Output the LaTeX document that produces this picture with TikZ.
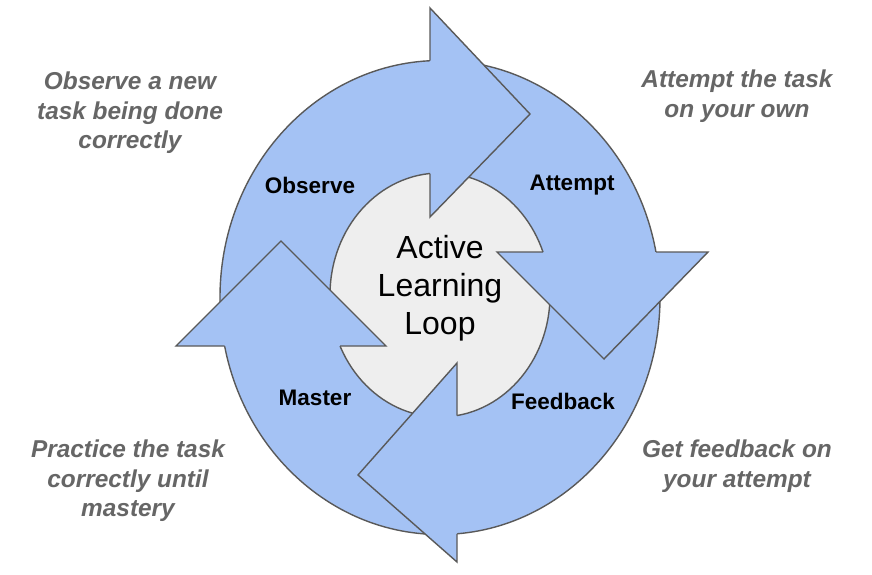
\documentclass[tikz,border=0pt]{standalone}
\usepackage{fontspec}
\setmainfont{Liberation Sans}
\definecolor{loopblue}{HTML}{A4C2F4}
\definecolor{loopgray}{HTML}{EEEEEE}
\definecolor{edgegray}{HTML}{595959}
\definecolor{notegray}{HTML}{666666}
\tikzset{
  ring/.style={fill=loopblue, draw=edgegray, line width=1.4pt},
  head/.style={draw=edgegray, line width=1.4pt, line join=miter},
  stage/.style={font=\fontsize{22.5}{26}\selectfont\bfseries},
  note/.style={align=center, text=notegray, font=\fontsize{24.4}{29.5}\selectfont\bfseries\itshape},
}
\begin{document}
\begin{tikzpicture}[x=1pt, y=-1pt]
\useasboundingbox (0,0) rectangle (872,575);
% ring and centre
\draw[ring] (440,297.5) ellipse [x radius=220, y radius=237];
\draw[ring, fill=loopgray] (440,295) ellipse [x radius=110, y radius=122];
% top head
\coordinate (T_o) at (430,60.7);
\coordinate (T_i) at (430,173.5);
\coordinate (T_w1) at (430,8);
\coordinate (T_tip) at (530,114);
\coordinate (T_w2) at (430,217);
\fill[loopblue] (T_w1) -- (T_tip) -- (T_w2) -- cycle;
\draw[head] (T_o) -- (T_w1) -- (T_tip) -- (T_w2) -- (T_i);
% right head
\coordinate (R_o) at (656,252);
\coordinate (R_i) at (543,252);
\coordinate (R_w1) at (708,252);
\coordinate (R_tip) at (604,359);
\coordinate (R_w2) at (497,252);
\fill[loopblue] (R_w1) -- (R_tip) -- (R_w2) -- cycle;
\draw[head] (R_o) -- (R_w1) -- (R_tip) -- (R_w2) -- (R_i);
% bottom head
\coordinate (B_o) at (457,533.8);
\coordinate (B_i) at (457,415.5);
\coordinate (B_w1) at (457,562);
\coordinate (B_tip) at (358,475);
\coordinate (B_w2) at (457,363);
\fill[loopblue] (B_w1) -- (B_tip) -- (B_w2) -- cycle;
\draw[head] (B_o) -- (B_w1) -- (B_tip) -- (B_w2) -- (B_i);
% left head
\coordinate (L_o) at (224.7,346);
\coordinate (L_i) at (340,346);
\coordinate (L_w1) at (176,346);
\coordinate (L_tip) at (281,241);
\coordinate (L_w2) at (386,346);
\fill[loopblue] (L_w1) -- (L_tip) -- (L_w2) -- cycle;
\draw[head] (L_o) -- (L_w1) -- (L_tip) -- (L_w2) -- (L_i);
% labels
\node[align=center, font=\fontsize{32}{38}\selectfont] (loop) at (440,288) {Active\\Learning\\Loop};
\node[stage] (observe) at (310,185) {Observe};
\node[stage] (attempt) at (572,185) {Attempt};
\node[stage] (master) at (315,398) {Master};
\node[stage] (feedback) at (563,401) {Feedback};
\node[note] (n_observe) at (130,113) {Observe a new\\task being done\\correctly};
\node[note] (n_attempt) at (737,96) {Attempt the task\\on your own};
\node[note] (n_feedback) at (737,466) {Get feedback on\\your attempt};
\node[note] (n_master) at (128,481) {Practice the task\\correctly until\\mastery};
\end{tikzpicture}
\end{document}
